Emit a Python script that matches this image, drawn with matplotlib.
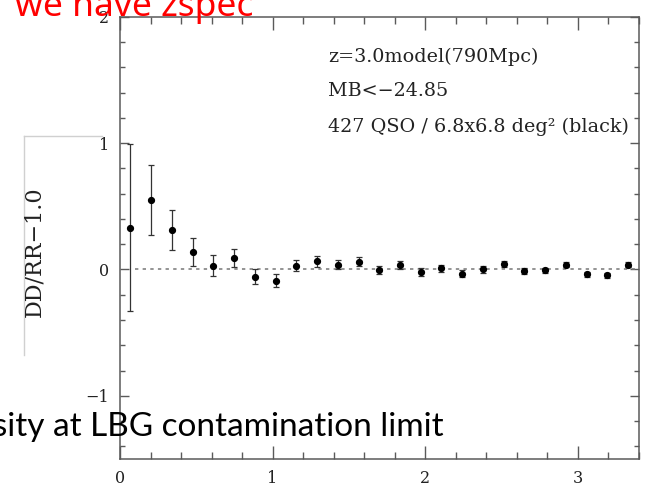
import matplotlib
matplotlib.use("Agg")
import matplotlib.pyplot as plt
from matplotlib.lines import Line2D
from matplotlib.ticker import MultipleLocator

# separation bins (deg) and DD/RR-1 values
sep_deg = [0.068, 0.204, 0.340, 0.476, 0.612, 0.748, 0.884, 1.020, 1.156,
           1.292, 1.428, 1.564, 1.700, 1.836, 1.972, 2.108, 2.244, 2.380,
           2.516, 2.652, 2.788, 2.924, 3.060, 3.196, 3.332]
xi = [0.33, 0.55, 0.31, 0.135, 0.03, 0.09, -0.058, -0.089, 0.03, 0.063,
      0.038, 0.062, -0.003, 0.037, -0.021, 0.008, -0.034, 0.0, 0.045,
      -0.013, -0.005, 0.039, -0.037, -0.047, 0.039]
xi_err = [0.66, 0.275, 0.16, 0.11, 0.083, 0.073, 0.058, 0.05, 0.045, 0.04,
          0.037, 0.037, 0.033, 0.03, 0.03, 0.03, 0.027, 0.025, 0.025, 0.022,
          0.02, 0.02, 0.02, 0.017, 0.02]

info_lines = ["z=3.0model(790Mpc)", "MB<\u221224.85",
              "427 QSO / 6.8x6.8 deg\u00b2 (black)"]

W, H = 653, 486
serif = ["DejaVu Serif"]
axis_grey = "#5a5a5a"


def fx(px):
    return px / W


def fy(py):
    # pixel row measured from the top of the image
    return 1 - py / H


fig = plt.figure(figsize=(W / 100, H / 100), dpi=100)
ax = fig.add_axes([fx(120), fy(459), fx(638.5) - fx(120), fy(16.7) - fy(459)])

ax.plot([0.1, 3.4], [0, 0], color="#777777", lw=1.1, linestyle=(0, (2.2, 2.8)))
ax.errorbar(sep_deg, xi, yerr=xi_err, fmt="o", color="black", ecolor="#333333",
            elinewidth=0.9, capsize=2.2, capthick=0.9, markersize=4.2, zorder=3)

ax.set_xlim(0, 3.4)
ax.set_ylim(-1.5, 2)
ax.xaxis.set_major_locator(MultipleLocator(1))
ax.xaxis.set_minor_locator(MultipleLocator(0.2))
ax.yaxis.set_major_locator(MultipleLocator(1))
ax.yaxis.set_minor_locator(MultipleLocator(0.2))
ax.tick_params(which="both", direction="in", top=True, right=True,
               color=axis_grey, width=1.0)
ax.tick_params(axis="x", which="major", length=9.4, pad=8)
ax.tick_params(axis="x", which="minor", length=4.8)
ax.tick_params(axis="y", which="major", length=6.5, pad=8)
ax.tick_params(axis="y", which="minor", length=3.6)
for lab in ax.get_xticklabels() + ax.get_yticklabels():
    lab.set_family(serif)
    lab.set_fontsize(11.5)
    lab.set_color("#222222")
for sp in ax.spines.values():
    sp.set_color(axis_grey)
    sp.set_linewidth(1.1)

for txt, yb in zip(info_lines, [61.7, 96, 131.7]):
    ax.text((328 - 120) / 518.5, (459 - yb) / 442.3, txt, transform=ax.transAxes,
            family=serif, fontsize=13.8, color="#222222", va="baseline",
            ha="left", clip_on=False)

# y label and the box border left over from the slide
fig.text(fx(34), fy(252), "DD/RR\u22121.0", rotation=90, ha="center",
         va="center", family=serif, fontsize=16, color="#222222")
fig.add_artist(Line2D([fx(24), fx(24)], [fy(135.7), fy(355)],
                      color="#d0d0d0", lw=1.0))
fig.add_artist(Line2D([fx(24), fx(102)], [fy(135.7), fy(135.7)],
                      color="#d0d0d0", lw=1.0))

# slide captions cut by the image edges
fig.text(fx(15), fy(15.7), "we have zspec", color="#ff0000",
         family=["Noto Sans"], fontsize=25.5, ha="left", va="baseline")
fig.text(fx(444), fy(436), "density at LBG contamination limit", color="black",
         family=["Lato"], fontsize=24, ha="right", va="baseline")

fig.savefig("out.png", dpi=100)
